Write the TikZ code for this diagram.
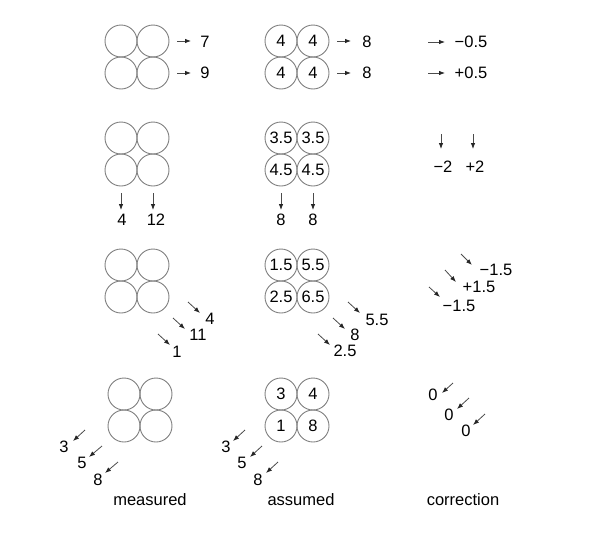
\documentclass[tikz,border=0pt]{standalone}
\usepackage{fontspec}
\setmainfont{Liberation Sans}
\usetikzlibrary{arrows.meta}
\newcommand\myarrow[3]{\coordinate (#1s) at #2; \coordinate (#1e) at #3; \draw[arr] (#1s) -- (#1e);}
\newcommand\mygrid[7]{%
  \node[cell] (#1a) at (#2,#3) {#4};
  \node[cell] (#1b) at (#2+32,#3) {#5};
  \node[cell] (#1c) at (#2,#3+32) {#6};
  \node[cell] (#1d) at (#2+32,#3+32) {#7};}
\begin{document}
\begin{tikzpicture}[x=1pt,y=-1pt,
  cell/.style={circle,draw=black!50,line width=0.9pt,minimum size=32pt,inner sep=0pt,font=\fontsize{16.5}{19}\selectfont},
  lab/.style={inner sep=0pt,font=\fontsize{16.5}{19}\selectfont},
  arr/.style={draw=black!70,line width=0.8pt,-{Latex[length=6pt,width=4.5pt,color=black!85]}}]
\useasboundingbox[fill=white] (0,0) rectangle (603,536);
% row 1
\mygrid{ma}{121}{41}{}{}{}{}
\mygrid{aa}{281}{41}{4}{4}{4}{4}
\node[lab] (m7) at (205,42) {7};
\node[lab] (m9) at (205,73) {9};
\node[lab] (a8t) at (367,42) {8};
\node[lab] (a8b) at (367,73) {8};
\node[lab] (cm05) at (471,42) {−0.5};
\node[lab] (cp05) at (471,73) {+0.5};
\myarrow{r1a}{(177,41)}{(191,41)}
\myarrow{r1b}{(177,73)}{(191,73)}
\myarrow{r1c}{(337,41)}{(351,41)}
\myarrow{r1d}{(337,73)}{(351,73)}
\myarrow{r1e}{(428,42)}{(445,42)}
\myarrow{r1f}{(428,73)}{(445,73)}
% row 2
\mygrid{mb}{121}{138}{}{}{}{}
\mygrid{ab}{281}{138}{3.5}{3.5}{4.5}{4.5}
\node[lab] (m4) at (122,220) {4};
\node[lab] (m12) at (156,220) {12};
\node[lab] (a8l) at (281,220) {8};
\node[lab] (a8r) at (313,220) {8};
\node[lab] (cm2) at (443,167) {−2};
\node[lab] (cp2) at (475,167) {+2};
\myarrow{r2a}{(121,193)}{(121,210)}
\myarrow{r2b}{(153,193)}{(153,210)}
\myarrow{r2c}{(281,193)}{(281,210)}
\myarrow{r2d}{(313,193)}{(313,210)}
\myarrow{r2e}{(441,134)}{(441,149)}
\myarrow{r2f}{(473,134)}{(473,149)}
% row 3
\mygrid{mc}{121}{265}{}{}{}{}
\mygrid{ac}{281}{265}{1.5}{5.5}{2.5}{6.5}
\node[lab] (d4) at (210,319) {4};
\node[lab] (d11) at (198,335) {11};
\node[lab] (d1) at (177,352) {1};
\node[lab] (d55) at (377,320) {5.5};
\node[lab] (d8) at (355,335) {8};
\node[lab] (d25) at (345,351) {2.5};
\node[lab] (dc1) at (496,270) {−1.5};
\node[lab] (dc2) at (479,287) {+1.5};
\node[lab] (dc3) at (459,306) {−1.5};
\myarrow{r3a}{(188,302)}{(200,313)}
\myarrow{r3b}{(173,318)}{(185,329)}
\myarrow{r3c}{(158,334)}{(170,345)}
\myarrow{r3d}{(348,302)}{(360,313)}
\myarrow{r3e}{(333,318)}{(345,329)}
\myarrow{r3f}{(318,334)}{(330,345)}
\myarrow{r3g}{(461,254)}{(472,265)}
\myarrow{r3h}{(445,270)}{(456,282)}
\myarrow{r3i}{(429,287)}{(440,297)}
% row 4
\mygrid{md}{124}{394}{}{}{}{}
\mygrid{ad}{281}{394}{3}{4}{1}{8}
\node[lab] (e3) at (64,447) {3};
\node[lab] (e5) at (82,463) {5};
\node[lab] (e8) at (98,480) {8};
\node[lab] (f3) at (226,447) {3};
\node[lab] (f5) at (242,463) {5};
\node[lab] (f8) at (258,480) {8};
\node[lab] (g1) at (433,395) {0};
\node[lab] (g2) at (449,415) {0};
\node[lab] (g3) at (466,431) {0};
\myarrow{r4a}{(85,430)}{(73,441)}
\myarrow{r4b}{(102,446)}{(89,457)}
\myarrow{r4c}{(118,462)}{(105,473)}
\myarrow{r4d}{(245,430)}{(233,441)}
\myarrow{r4e}{(262,446)}{(250,457)}
\myarrow{r4f}{(278,462)}{(266,473)}
\myarrow{r4g}{(453,383)}{(442,393)}
\myarrow{r4h}{(469,398)}{(457,409)}
\myarrow{r4i}{(485,414)}{(473,425)}
% captions
\node[lab] (capm) at (150,500) {measured};
\node[lab] (capa) at (301,500) {assumed};
\node[lab] (capc) at (463,500) {correction};
\end{tikzpicture}
\end{document}
